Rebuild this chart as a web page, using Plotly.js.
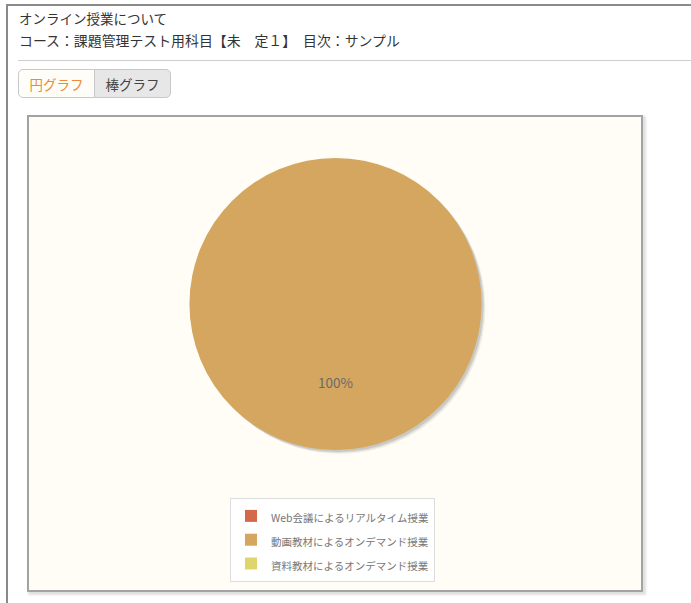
<!DOCTYPE html>
<html><head><meta charset="utf-8">
<script src="https://cdn.plot.ly/plotly-3.0.1.min.js"></script>
<style>
html,body{margin:0;padding:0;background:#fff;width:691px;height:603px;overflow:hidden;font-family:"Noto Sans CJK JP","Noto Sans",sans-serif;}
#frame{position:absolute;left:6px;top:4px;width:700px;height:620px;border-left:2px solid #8a8a8a;border-top:2px solid #8a8a8a;}
#t1{position:absolute;left:19px;top:8px;font-size:13.5px;color:#333;}
#t2{position:absolute;left:19px;top:30px;font-size:13.9px;color:#333;}
#sep{position:absolute;left:18px;top:60px;width:680px;height:0;border-top:1px solid #cfcfcf;}
.btn{position:absolute;top:69px;height:29px;line-height:28px;font-size:13.5px;text-align:center;border:1px solid #c8c8c8;box-sizing:border-box;}
#b1{left:18px;width:77px;color:#ec8a35;background:#fffdf8;border-radius:5px 0 0 5px;}
#b2{left:94px;width:77px;color:#444;background:#e7e7e7;border-radius:0 5px 5px 0;}
#box{position:absolute;left:27px;top:115px;width:612px;height:473px;border:2px solid #a3a3a3;box-shadow:2px 2px 2px 1px rgba(0,0,0,0.12);background:#fffdf6;}
#chart{position:absolute;left:0;top:0;width:612px;height:473px;}
</style></head>
<body>
<div id="frame"></div>
<div id="t1">オンライン授業について</div>
<div id="t2">コース：課題管理テスト用科目【未　定１】　目次：サンプル</div>
<div id="sep"></div>
<div class="btn" id="b1">円グラフ</div>
<div class="btn" id="b2">棒グラフ</div>
<div id="box"><div id="chart"></div></div>
<script>
const categories = ["Web会議によるリアルタイム授業", "動画教材によるオンデマンド授業", "資料教材によるオンデマンド授業"];
const values = [0, 1, 0];
const sliceColors = ["#d3694a", "#d4a660", "#e0d56b"];

const W = 612, H = 473;
const cx = 306.5, cy = 187, r = 146;
function dom(dx, dy) {
  return {
    x: [(cx - r + dx) / W, (cx + r + dx) / W],
    y: [(H - cy - r - dy) / H, (H - cy + r - dy) / H]
  };
}
const total = values.reduce((a, b) => a + b, 0);
const legendLabels = categories.map(c => '<span style="font-size:10.5px">' + c + '</span>');

const shadows = [];
[[4, 4, 0.05], [3, 3, 0.07], [2, 2, 0.10]].forEach(s => {
  shadows.push({
    type: 'pie', labels: legendLabels, values: values, sort: false,
    domain: dom(s[0], s[1]), showlegend: false, hoverinfo: 'skip',
    textinfo: 'none', marker: {colors: categories.map(() => 'rgba(0,0,0,' + s[2] + ')'), line: {width: 0}}
  });
});

const main = {
  type: 'pie', labels: legendLabels, values: values, sort: false, direction: 'clockwise',
  domain: dom(0, 0), textinfo: 'none',
  marker: {colors: sliceColors, line: {width: 0}}
};

const annotations = values.map((v, i) => v > 0 ? {
  xref: 'paper', yref: 'paper', x: cx / W, y: (H - cy - 78) / H,
  text: Math.round(v / total * 100) + '%', showarrow: false,
  font: {size: 13.5, color: '#6a6a6a', family: '"Noto Sans CJK JP", sans-serif'}
} : null).filter(a => a);

const layout = {
  width: W, height: H,
  margin: {l: 0, r: 0, t: 0, b: 0},
  paper_bgcolor: '#fffdf6', plot_bgcolor: '#fffdf6',
  showlegend: true,
  legend: {
    x: 303.5 / W, y: (H - 381) / H, xanchor: 'center', yanchor: 'top',
    bgcolor: '#ffffff', bordercolor: '#dcdcdc', borderwidth: 1,
    font: {size: 16, color: '#777777', family: '"Noto Sans CJK JP", sans-serif'},
    itemwidth: 30,
    traceorder: 'normal'
  },
  annotations: annotations
};

Plotly.newPlot('chart', shadows.concat([main]), layout, {staticPlot: true, displayModeBar: false});
</script>
</body></html>
